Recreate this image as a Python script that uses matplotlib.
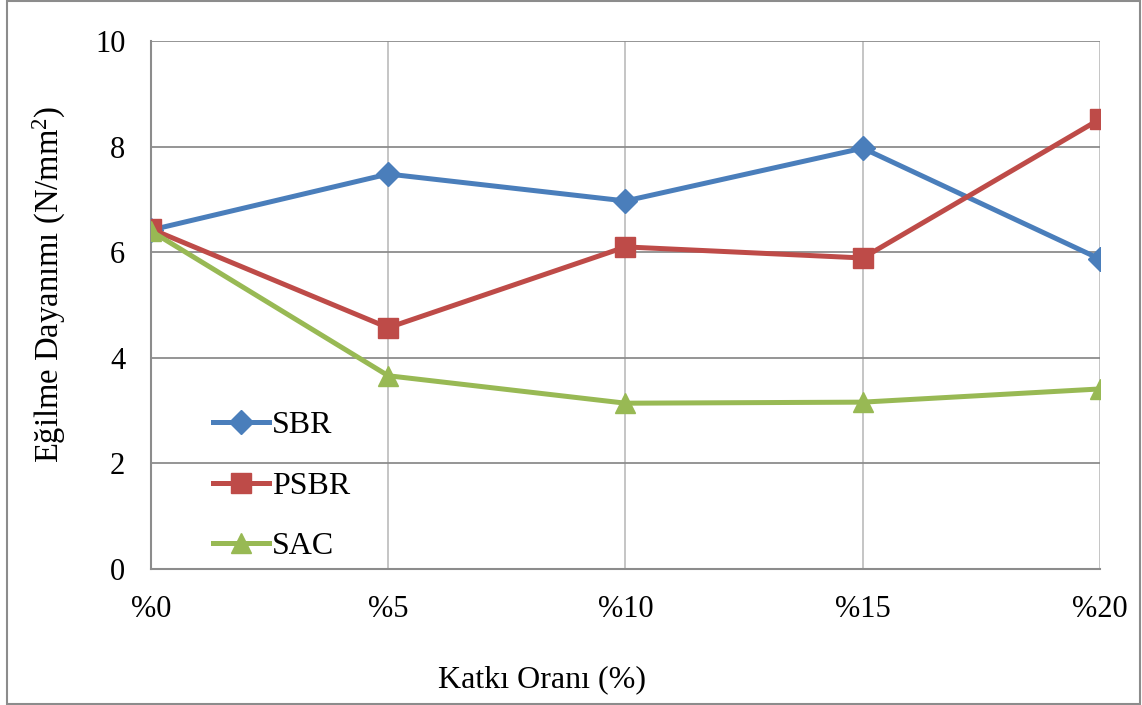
import matplotlib.pyplot as plt
from matplotlib.patches import Rectangle

categories = ["%0", "%5", "%10", "%15", "%20"]
sbr = [6.42, 7.48, 6.97, 7.97, 5.87]
psbr = [6.44, 4.57, 6.10, 5.89, 8.52]
sac = [6.40, 3.66, 3.14, 3.16, 3.41]

plt.rcParams['font.family'] = ['Liberation Serif', 'DejaVu Serif']
plt.rcParams['mathtext.fontset'] = 'custom'
plt.rcParams['mathtext.rm'] = 'Liberation Serif'

fig = plt.figure(figsize=(11.42, 7.05), dpi=100)
ax = fig.add_axes([0.1322, 0.1929, 0.831, 0.749])

x = range(len(categories))
ax.plot(x, sbr, color="#4A7EBB", lw=3.6, marker="D", ms=12, label="SBR", zorder=3)
ax.plot(x, psbr, color="#BE4B48", lw=3.6, marker="s", ms=14, label="PSBR", zorder=3)
ax.plot(x, sac, color="#98B954", lw=3.6, marker="^", ms=14, label="SAC", zorder=3)

ax.set_xlim(0, 4)
ax.set_ylim(0, 10)
ax.set_xticks(list(x))
ax.set_xticklabels(categories)
ax.set_yticks([0, 2, 4, 6, 8, 10])
ax.tick_params(axis='both', labelsize=22, length=0)
ax.tick_params(axis='x', pad=19)
ax.tick_params(axis='y', pad=18.5)

ax.yaxis.grid(True, color="#8c8c8c", lw=1.3)
ax.xaxis.grid(True, color="#c0c0c0", lw=1.3)
ax.set_axisbelow(True)
for s in ["top", "right"]:
    ax.spines[s].set_visible(False)
for s in ["left", "bottom"]:
    ax.spines[s].set_color("#8c8c8c")
    ax.spines[s].set_linewidth(1.5)

ax.set_ylabel(r"Eğilme Dayanımı (N/mm$\mathrm{^2}$)", fontsize=23.5)
ax.yaxis.set_label_coords(-0.087, 0.54)
ax.set_xlabel("Katkı Oranı (%)", fontsize=23)
ax.xaxis.set_label_coords(0.412, -0.182)

ax.legend(loc="lower left", bbox_to_anchor=(0.035, -0.04), frameon=False, fontsize=23,
          handlelength=1.75, labelspacing=0.98, handletextpad=0.1)

fig.patches.append(Rectangle((0.006, 0.002), 0.992, 0.996, transform=fig.transFigure,
                             fill=False, edgecolor="#8c8c8c", lw=1.5))

fig.savefig("out.png", dpi=100)
